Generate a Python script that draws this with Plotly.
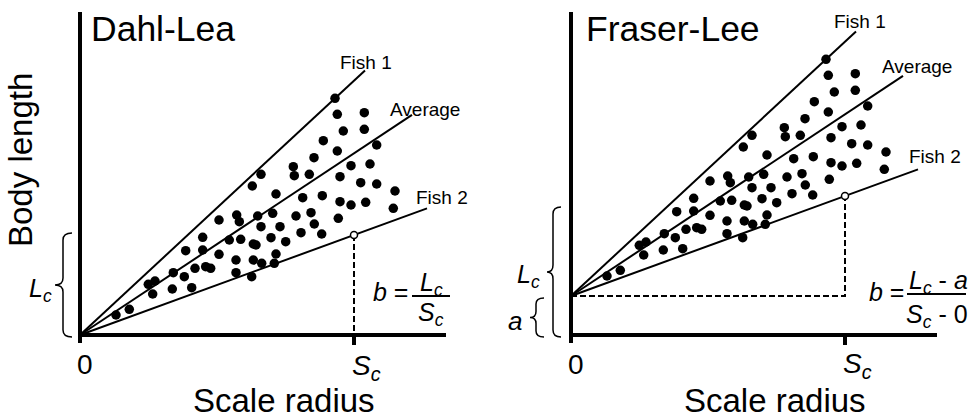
import plotly.graph_objects as go

# ---------------- data (shared measurements, pixel-like units from origin) ----------------
dot_x = [257.3, 284.3, 263.3, 284.3, 243.3, 257.3, 296.7, 234, 213.3, 214.3, 229.3, 271, 290,
         181, 172.3, 260, 280.7, 296.7, 196, 222.7, 242.3, 315, 260, 271, 285.7, 313.3,
         156.7, 159.3, 177.7, 192.7, 139, 216, 231, 122.7, 181, 200, 221, 234.3, 241.7, 258.3,
         105.7, 122.7, 149.3, 160.7, 173.3, 176, 191, 205.7, 139, 156, 173.3, 181.7, 196, 194.3,
         68.3, 75, 93.3, 104.3, 115, 125.7, 130.7, 156, 171.7, 72.7, 92.3, 111.7, 36, 49.3]
dot_y = [220.7, 222.3, 204, 205.7, 194.3, 184, 190, 177.3, 168.3, 159.3, 160.7, 169.3, 171,
         160.7, 149, 158.3, 152.3, 151, 141, 137.3, 139.3, 144, 133.3, 130, 132.7, 126.7,
         120, 113.3, 119, 121.7, 115, 119, 122.3, 97.7, 108.3, 108.3, 102.3, 111, 101, 116.7,
         84.3, 85, 95, 95.7, 91, 90, 97.3, 93.3, 80.7, 75, 75, 71.7, 81, 71.7,
         50.7, 54, 62.3, 58.3, 66.7, 68.3, 66.7, 62.3, 58.3, 41, 46, 47.3, 20, 25.7]

fish1_point = (255, 236.7)      # Fish 1 at capture
fish2_point = (274, 100)        # Fish 2 at capture (Sc, Lc)
avg_slope = 0.663
line_names = ["Fish 1", "Average", "Fish 2"]
line_end_x = [285, 332, 347]
a_intercept = 39                # Fraser-Lee intercept
Sc = fish2_point[0]
Lc = fish2_point[1]

panel_titles = ["Dahl-Lea", "Fraser-Lee"]
x_label = "Scale radius"
y_label = "Body length"
tick_labels = ["0", "<i>S<sub>c</sub></i>"]

FONT = "Liberation Sans, Arial, Helvetica, sans-serif"

fig = go.Figure()

W, H = 973, 415
split = 486
panels = [
    dict(xa="x", ya="y", xr=[-80, split - 80], dom=[0, split / W], a=0),
    dict(xa="x2", ya="y2", xr=[-85, W - split - 85], dom=[split / W, 1], a=a_intercept),
]

slopes = [fish1_point[1] / fish1_point[0], avg_slope, fish2_point[1] / fish2_point[0]]

annotations = []
shapes = []


def brace_path(xv, xe, xt, y0, y1, r=7):
    ym = (y0 + y1) / 2
    return (f"M {xe},{y1} Q {xv},{y1} {xv},{y1 - r} L {xv},{ym + r} "
            f"Q {xv},{ym} {xt},{ym} Q {xv},{ym} {xv},{ym - r} "
            f"L {xv},{y0 + r} Q {xv},{y0} {xe},{y0}")


for i, p in enumerate(panels):
    xa, ya, a = p["xa"], p["ya"], p["a"]
    common = dict(xaxis=xa, yaxis=ya, showlegend=False, hoverinfo="skip", cliponaxis=False)
    # regression lines
    for s, xe in zip(slopes, line_end_x):
        fig.add_trace(go.Scatter(x=[0, xe], y=[a, a + s * xe], mode="lines",
                                 line=dict(color="black", width=2), **common))
    # dashed guides
    if a == 0:
        fig.add_trace(go.Scatter(x=[Sc, Sc], y=[Lc, 0], mode="lines",
                                 line=dict(color="black", width=2, dash="6px,3px"), **common))
    else:
        fig.add_trace(go.Scatter(x=[0, Sc, Sc], y=[a, a, a + Lc], mode="lines",
                                 line=dict(color="black", width=2, dash="6px,3px"), **common))
    # axes
    fig.add_trace(go.Scatter(x=[0, 0], y=[-8, 323], mode="lines",
                             line=dict(color="black", width=4), **common))
    fig.add_trace(go.Scatter(x=[0, 366], y=[0, 0], mode="lines",
                             line=dict(color="black", width=4), **common))
    fig.add_trace(go.Scatter(x=[Sc, Sc], y=[0, -10], mode="lines",
                             line=dict(color="black", width=4), **common))
    # dots
    fig.add_trace(go.Scatter(x=dot_x + [fish1_point[0]], y=[v + a for v in dot_y] + [fish1_point[1] + a],
                             mode="markers", marker=dict(color="black", size=9.5, line=dict(width=0)),
                             **common))
    fig.add_trace(go.Scatter(x=[Sc], y=[Lc + a], mode="markers",
                             marker=dict(color="white", size=7, line=dict(color="black", width=1.5)),
                             **common))

    def ann(text, x, y, size, xanchor="center", yanchor="top", angle=0):
        annotations.append(dict(text=text, x=x, y=y, xref=xa, yref=ya, showarrow=False,
                                xanchor=xanchor, yanchor=yanchor, textangle=angle,
                                font=dict(family=FONT, size=size, color="black")))

    ann(panel_titles[i], 9 if i == 0 else 13, 328, 35.5, xanchor="left")
    ann(x_label, 204, -45, 33)
    ann(tick_labels[0], 5, -11.7, 28)
    ann(tick_labels[1], Sc - 4, -13.2 if i == 0 else -11.2, 28, xanchor="left")

    if i == 0:
        ann(y_label, -60, 175, 33, yanchor="middle", angle=-90)
        lab_pos = [(286, 285.3), (345, 238.3), (362, 150.3)]
        for name, (lx, ly) in zip(line_names, lab_pos):
            ann(name, lx, ly, 19)
        ann("<i>L<sub>c</sub></i>", -26, 62.7, 25, xanchor="right")
        shapes.append(dict(type="path", xref=xa, yref=ya,
                           path=brace_path(-17, -8, -25, -2, Lc + 2),
                           line=dict(color="black", width=1.5)))
        ann("<i>b</i> =", 291, 58.7, 25, xanchor="left")
        ann("<i>L<sub>c</sub></i>", 351, 68.7, 25)
        ann("<i>S<sub>c</sub></i>", 351, 38.7, 25)
        shapes.append(dict(type="line", xref=xa, yref=ya, x0=332, x1=370, y0=39, y1=39,
                           line=dict(color="black", width=2)))
    else:
        lab_pos = [(289, 326.3), (345.5, 281.3), (363.5, 191.3)]
        for name, (lx, ly) in zip(line_names, lab_pos):
            ann(name, lx, ly, 19)
        ann("<i>L<sub>c</sub></i>", -29, 76.7, 25, xanchor="right")
        ann("<i>a</i>", -47, 31, 26, xanchor="right")
        shapes.append(dict(type="path", xref=xa, yref=ya,
                           path=brace_path(-18, -10, -24, -2, 128),
                           line=dict(color="black", width=1.5)))
        shapes.append(dict(type="path", xref=xa, yref=ya,
                           path=brace_path(-35, -27, -41, -2, a - 2, r=6),
                           line=dict(color="black", width=1.5)))
        ann("<i>b</i> =", 296, 58.7, 25, xanchor="left")
        ann("<i>L<sub>c</sub></i> - <i>a</i>", 367, 70.7, 25)
        ann("<i>S<sub>c</sub></i> - 0", 366, 36.7, 25)
        shapes.append(dict(type="line", xref=xa, yref=ya, x0=336, x1=395, y0=41, y1=41,
                           line=dict(color="black", width=2)))

ax_common = dict(visible=False, showgrid=False, zeroline=False, fixedrange=True)
fig.update_layout(
    width=W, height=H,
    margin=dict(l=0, r=0, t=0, b=0),
    paper_bgcolor="white", plot_bgcolor="white",
    xaxis=dict(domain=panels[0]["dom"], range=panels[0]["xr"], **ax_common),
    yaxis=dict(domain=[0, 1], range=[-80, 335], **ax_common),
    xaxis2=dict(domain=panels[1]["dom"], range=panels[1]["xr"], **ax_common),
    yaxis2=dict(domain=[0, 1], range=[-80, 335], anchor="x2", **ax_common),
    annotations=annotations,
    shapes=shapes,
)
fig.write_html("out.html")
